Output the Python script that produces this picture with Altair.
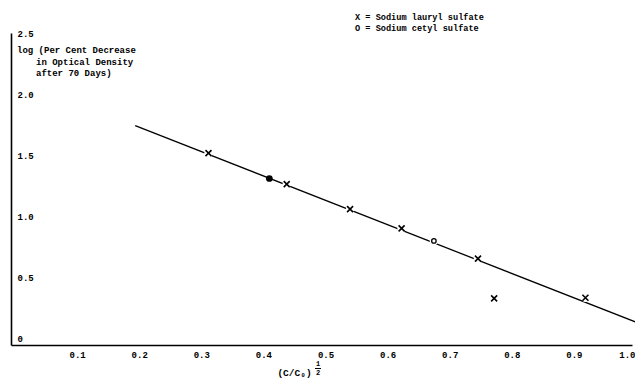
import altair as alt
import pandas as pd

# ---- data ----
lauryl_x = [0.318, 0.444, 0.546, 0.629, 0.752, 0.778, 0.925]
lauryl_y = [1.574, 1.320, 1.115, 0.957, 0.709, 0.383, 0.388]
cetyl_open_x = [0.681]
cetyl_open_y = [0.854]
cetyl_filled_x = [0.416]
cetyl_filled_y = [1.366]
fit_x = [0.20, 1.01]
fit_y = [1.80, 0.18]
x_ticks = [0.1, 0.2, 0.3, 0.4, 0.5, 0.6, 0.7, 0.8, 0.9, 1.0]
y_ticks = [0, 0.5, 1.0, 1.5, 2.0, 2.5]
legend_lines = ["X = Sodium lauryl sulfate", "O = Sodium cetyl sulfate"]
ytitle_lines = ["log (Per Cent Decrease", "in Optical Density", "after 70 Days)"]

W, H = 621, 312
FONT = "Liberation Mono"

lauryl = pd.DataFrame({"x": lauryl_x, "y": lauryl_y})
cetyl_open = pd.DataFrame({"x": cetyl_open_x, "y": cetyl_open_y})
cetyl_filled = pd.DataFrame({"x": cetyl_filled_x, "y": cetyl_filled_y})
fit = pd.DataFrame({"x": fit_x, "y": fit_y})
allpts = pd.concat([lauryl, cetyl_open])

xscale = alt.Scale(domain=[0, 1.0], nice=False, zero=False)
yscale = alt.Scale(domain=[0, 2.56], nice=False, zero=False)

x_axis = alt.Axis(
    values=x_ticks, format=".1f", ticks=False, grid=False,
    domainColor="black", domainWidth=1.6,
    labelFont=FONT, labelFontWeight="bold", labelFontSize=9, labelColor="black",
    labelAlign={"condition": {"test": "datum.value >= 1", "value": "right"}, "value": "center"},
    labelOffset={"condition": {"test": "datum.value >= 1", "value": 3}, "value": 4},
    labelPadding=5, labelFlush=False, labelOverlap=False,
    title="(C/C\u2080)", titleFont=FONT, titleFontWeight="bold", titleFontSize=9.5,
    titleColor="black", titleX=283, titleY=27, titleBaseline="middle",
)
y_axis = alt.Axis(
    values=y_ticks, ticks=False, grid=False,
    labelExpr="datum.value == 0 ? '0' : format(datum.value, '.1f')",
    domainColor="black", domainWidth=1.6,
    labelFont=FONT, labelFontWeight="bold", labelFontSize=9, labelColor="black",
    labelAlign="left", labelPadding=-6, labelOffset=-7, labelBaseline="middle",
    labelFlush=False, labelOverlap=False, title=None,
)

enc = dict(
    x=alt.X("x:Q", scale=xscale, axis=x_axis),
    y=alt.Y("y:Q", scale=yscale, axis=y_axis),
)

line = alt.Chart(fit).mark_line(color="black", strokeWidth=1.3).encode(**enc)

gaps = alt.Chart(allpts).mark_point(
    shape="circle", filled=True, color="white", opacity=1, size=70
).encode(**enc)

xs = alt.Chart(lauryl).mark_point(
    shape="M-1,-1L1,1M-1,1L1,-1", filled=False, color="black",
    strokeWidth=1.6, size=36, opacity=1
).encode(**enc)

os_ = alt.Chart(cetyl_open).mark_point(
    shape="circle", filled=False, color="black", strokeWidth=1.3, size=20, opacity=1
).encode(**enc)

dot = alt.Chart(cetyl_filled).mark_point(
    shape="circle", filled=True, color="black", size=45, opacity=1
).encode(**enc)


def label(text, px, py, size=9, align="left"):
    return alt.Chart(pd.DataFrame({"t": [text]})).mark_text(
        font=FONT, fontWeight="bold", fontSize=size, color="black",
        align=align, baseline="middle"
    ).encode(x=alt.value(px), y=alt.value(py), text="t:N")


annots = [
    label(legend_lines[0], 344, -16, size=8.6),
    label(legend_lines[1], 344, -5, size=8.6),
    label(ytitle_lines[0], 6, 17),
    label(ytitle_lines[1], 25, 29),
    label(ytitle_lines[2], 25, 40),
    label("1", 307, 331, size=7, align="center"),
    label("2", 307, 340, size=7, align="center"),
]
frac_bar = alt.Chart(pd.DataFrame({"a": [0]})).mark_rule(
    color="black", strokeWidth=1
).encode(x=alt.value(304), x2=alt.value(310), y=alt.value(335.5))

chart = alt.layer(line, gaps, xs, os_, dot, frac_bar, *annots).properties(
    width=W, height=H,
    padding={"left": 3, "top": 25, "right": 3, "bottom": 33},
    autosize=alt.AutoSizeParams(type="none"),
    background="white",
).configure_view(stroke=None)

chart.save("out.html", embed_options={"renderer": "svg", "actions": False})
